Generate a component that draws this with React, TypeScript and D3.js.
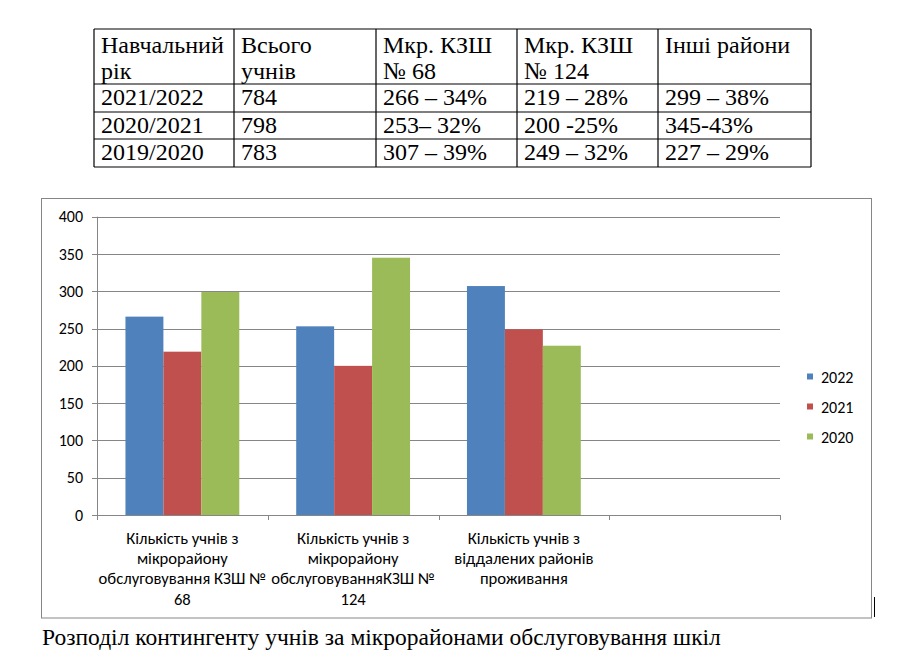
import React from "react";
import * as d3 from "d3";

const tableHeader: string[][] = [
  ["Навчальний", "рік"],
  ["Всього", "учнів"],
  ["Мкр. КЗШ", "№ 68"],
  ["Мкр. КЗШ", "№ 124"],
  ["Інші райони"],
];
const tableRows: string[][] = [
  ["2021/2022", "784", "266 – 34%", "219 – 28%", "299 – 38%"],
  ["2020/2021", "798", "253– 32%", "200 -25%", "345-43%"],
  ["2019/2020", "783", "307 – 39%", "249 – 32%", "227 – 29%"],
];

const categories: string[][] = [
  ["Кількість учнів з", "мікрорайону", "обслуговування КЗШ №", "68"],
  ["Кількість учнів з", "мікрорайону", "обслуговуванняКЗШ №", "124"],
  ["Кількість учнів з", "віддалених районів", "проживання"],
  [],
];
const seriesNames = ["2022", "2021", "2020"];
const values2022 = [266, 253, 307, null];
const values2021 = [219, 200, 249, null];
const values2020 = [299, 345, 227, null];
const yTicks = [0, 50, 100, 150, 200, 250, 300, 350, 400];
const caption = "Розподіл контингенту учнів за мікрорайонами обслуговування шкіл";

const colors = ["#4F81BD", "#C0504D", "#9BBB59"];
const seriesValues = [values2022, values2021, values2020];

export default function App() {
  const W = 908, H = 668;
  const colX = [94, 234, 376, 517, 658, 811];
  const rowY = [29, 84, 112, 139, 167];
  const plotL = 97, plotR = 780, plotT = 216.7, plotB = 515;
  const catKeys = categories.map((_, i) => String(i));
  const x0 = d3.scaleBand<string>().domain(catKeys).range([plotL, plotR]).padding(0);
  const bw = x0.bandwidth();
  const x1 = d3.scaleBand<string>().domain(seriesNames).range([bw / 6, (bw * 5) / 6]).padding(0);
  const y = d3.scaleLinear().domain([0, 400]).range([plotB, plotT]);
  const grey = "#868686";
  const sans: React.CSSProperties = { fontFamily: '"Carlito"' };
  const serif: React.CSSProperties = { fontFamily: '"Liberation Serif"' };

  return (
    <svg width={W} height={H} style={{ position: "absolute", left: 0, top: 0, background: "#fff" }}>
      <rect x={0} y={0} width={W} height={H} fill="#fff" />
      {/* table */}
      <g stroke="#000" strokeWidth={1.2} fill="none">
        {colX.map((cx, i) => (
          <line key={"c" + i} x1={cx} x2={cx} y1={rowY[0]} y2={rowY[rowY.length - 1]} />
        ))}
        {rowY.map((ry, i) => (
          <line key={"r" + i} x1={colX[0]} x2={colX[colX.length - 1]} y1={ry} y2={ry} />
        ))}
      </g>
      <g fill="#000">
        {tableHeader.map((lines, ci) =>
          lines.map((t, li) => (
            <text key={`h${ci}-${li}`} x={colX[ci] + 7} y={53 + li * 26} style={{ ...serif, fontSize: 24 }}>{t}</text>
          ))
        )}
        {tableRows.map((row, ri) =>
          row.map((t, ci) => (
            <text key={`d${ri}-${ci}`} x={colX[ci] + 7} y={105 + ri * 27.5} style={{ ...serif, fontSize: 24 }}>{t}</text>
          ))
        )}
      </g>

      {/* chart border */}
      <rect x={41.5} y={198.5} width={830} height={419.5} fill="#fff" stroke={grey} strokeWidth={1} />

      {/* gridlines */}
      <g stroke={grey} strokeWidth={1}>
        {yTicks.filter((t) => t > 0).map((t) => (
          <line key={t} x1={plotL} x2={plotR} y1={Math.round(y(t)) + 0.5} y2={Math.round(y(t)) + 0.5} />
        ))}
      </g>

      {/* bars */}
      {seriesValues.map((vals, si) => (
        <g key={si} fill={colors[si]}>
          {vals.map((v, ci) =>
            v == null ? null : (
              <rect
                key={ci}
                x={(x0(String(ci)) as number) + (x1(seriesNames[si]) as number)}
                y={y(v)}
                width={x1.bandwidth()}
                height={plotB - y(v)}
              />
            )
          )}
        </g>
      ))}

      {/* axes */}
      <g stroke={grey} strokeWidth={1}>
        <line x1={plotL + 0.5} x2={plotL + 0.5} y1={plotT} y2={plotB} />
        <line x1={plotL} x2={plotR} y1={plotB + 0.5} y2={plotB + 0.5} />
        {yTicks.map((t) => (
          <line key={"yt" + t} x1={plotL - 5} x2={plotL} y1={Math.round(y(t)) + 0.5} y2={Math.round(y(t)) + 0.5} />
        ))}
        {[...catKeys.map((k) => x0(k) as number), plotR].map((xx, i) => (
          <line key={"xt" + i} x1={Math.round(xx) + 0.5} x2={Math.round(xx) + 0.5} y1={plotB} y2={plotB + 5} />
        ))}
      </g>
      <g fill="#000" textAnchor="end">
        {yTicks.map((t) => (
          <text key={t} x={83} y={y(t)} dy="0.35em" style={{ ...sans, fontSize: 16 }}>{t}</text>
        ))}
      </g>
      <g fill="#000" textAnchor="middle">
        {categories.map((lines, ci) =>
          lines.map((ln, li) => (
            <text key={`${ci}-${li}`} x={(x0(String(ci)) as number) + bw / 2} y={538 + li * 20.3} dy="0.35em" style={{ ...sans, fontSize: 16.6 }}>{ln}</text>
          ))
        )}
      </g>

      {/* legend */}
      <g fill="#000">
        {seriesNames.map((s, i) => (
          <g key={s} transform={`translate(0, ${377.5 + i * 30})`}>
            <rect x={807} y={-4} width={6} height={6} fill={colors[i]} />
            <text x={821} y={0} dy="0.35em" style={{ ...sans, fontSize: 16 }}>{s}</text>
          </g>
        ))}
      </g>

      {/* cursor mark */}
      <line x1={874.5} x2={874.5} y1={597} y2={617} stroke="#000" strokeWidth={1} />

      {/* caption */}
      <text x={42} y={645} style={{ ...serif, fontSize: 23.5 }} fill="#000">{caption}</text>
    </svg>
  );
}
